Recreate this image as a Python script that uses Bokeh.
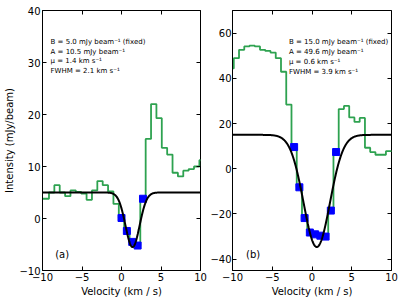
import numpy as np
from bokeh.plotting import figure
from bokeh.layouts import row
from bokeh.models import LinearAxis, Label, FixedTicker, Range1d
from bokeh.embed import file_html
from bokeh.resources import INLINE

# ---------------- data: panel (a) ----------------
vel_a = [-10.20, -9.52, -8.84, -8.16, -7.48, -6.80, -6.12, -5.44, -4.76, -4.08,
         -3.40, -2.72, -2.04, -1.36, -0.68, 0.00, 0.68, 1.36, 2.04, 2.72,
         3.40, 4.08, 4.76, 5.44, 6.12, 6.80, 7.48, 8.16, 8.84, 9.52, 10.20]
flux_a = [3.8, 3.8, 5.0, 6.4, 5.0, 4.3, 5.4, 5.1, 4.8, 3.6,
          5.4, 7.2, 6.4, 5.2, 2.8, 0.1, -2.4, -4.5, -5.2, 3.8,
          15.3, 22.0, 19.3, 13.6, 12.3, 8.8, 8.1, 9.2, 9.5, 10.0, 11.2]
fit_range_a = (-0.3, 3.0)
B_a, A_a, mu_a, fwhm_a = 5.0, 10.5, 1.4, 2.1
yticks_a = [-10, 0, 10, 20, 30, 40]
yrange_a = (-10, 40)

# ---------------- data: panel (b) ----------------
vel_b = [-10.17, -9.51, -8.85, -8.19, -7.53, -6.87, -6.21, -5.55, -4.89, -4.23,
         -3.57, -2.91, -2.25, -1.59, -0.93, -0.27, 0.39, 1.05, 1.71, 2.37,
         3.03, 3.69, 4.35, 5.01, 5.67, 6.33, 6.99, 7.65, 8.31, 8.97, 9.63, 10.29]
flux_b = [44.4, 48.9, 52.6, 54.1, 54.5, 54.1, 52.6, 52.1, 51.4, 48.9,
          42.9, 28.4, 9.6, -8.2, -21.8, -28.2, -29.0, -29.6, -30.0, -18.5,
          7.4, 26.4, 27.8, 22.7, 20.7, 22.5, 9.3, 7.4, 6.2, 6.2, 7.8, 7.8]
fit_range_b = (-2.5, 3.3)
B_b, A_b, mu_b, fwhm_b = 15.0, 49.6, 0.6, 3.9
yticks_b = [-40, -20, 0, 20, 40, 60]
yrange_b = (-45, 70)

xticks = [-10, -5, 0, 5, 10]
xrange_all = (-10, 10)

FONT = "DejaVu Sans"
GREEN = "#2ea250"
MINUS = "\u2212"


def fmt(t):
    return (MINUS + str(abs(t))) if t < 0 else str(t)


def ann_lines(B, A, mu, fwhm):
    return [f"B = {B:.1f} mJy beam\u207b\u00b9 (fixed)",
            f"A = {A:.1f} mJy beam\u207b\u00b9",
            f"\u03bc = {mu:.1f} km s\u207b\u00b9",
            f"FWHM = {fwhm:.1f} km s\u207b\u00b9"]


def make_panel(vel, flux, fit_range, B, A, mu, fwhm, yr, yticks, tag,
               ann_x, ann_y, tag_x, tag_y, left_border, right_border, ylabel,
               fw, ylab_standoff):
    p = figure(frame_width=fw, frame_height=260, output_backend="svg",
               toolbar_location=None, x_range=Range1d(*xrange_all),
               y_range=Range1d(*yr), min_border_left=left_border,
               min_border_right=right_border, min_border_top=10,
               min_border_bottom=0, background_fill_color="white",
               border_fill_color="white")
    p.grid.visible = False
    p.outline_line_color = "black"
    p.outline_line_width = 1

    # extra axes for inward ticks on top and right (no labels)
    top = LinearAxis()
    right = LinearAxis()
    p.add_layout(top, "above")
    p.add_layout(right, "right")

    for ax in p.xaxis:
        ax.ticker = FixedTicker(ticks=xticks)
        ax.major_label_overrides = {t: fmt(t) for t in xticks}
    for ax in p.yaxis:
        ax.ticker = FixedTicker(ticks=yticks)
        ax.major_label_overrides = {t: fmt(t) for t in yticks}
    for ax in list(p.xaxis) + list(p.yaxis):
        ax.major_tick_in = 4
        ax.major_tick_out = 0
        ax.minor_tick_in = 0
        ax.minor_tick_out = 0
        ax.axis_line_color = "black"
        ax.major_tick_line_color = "black"
        ax.major_label_text_font = FONT
        ax.major_label_text_font_size = "10px"
        ax.major_label_text_color = "black"
        ax.major_label_standoff = 2
        ax.axis_label_text_font = FONT
        ax.axis_label_text_font_size = "10px"
        ax.axis_label_text_font_style = "normal"
        ax.axis_label_text_color = "black"
        ax.axis_label_standoff = 2
    for ax in (top, right):
        ax.major_label_text_font_size = "0px"
        ax.major_label_text_color = None
        ax.major_label_standoff = 0
        ax.axis_line_color = None

    p.left[0].major_label_standoff = ylab_standoff
    p.below[0].axis_label = "Velocity (km / s)"
    if ylabel:
        p.left[0].axis_label = ylabel
        p.left[0].axis_label_standoff = 1

    # spectrum
    p.step(vel, flux, mode="center", line_color=GREEN, line_width=1.8)

    # fitted channels
    fv = [v for v, f in zip(vel, flux) if fit_range[0] <= v <= fit_range[1]]
    ff = [f for v, f in zip(vel, flux) if fit_range[0] <= v <= fit_range[1]]
    p.scatter(fv, ff, marker="square", size=7, fill_color="#0000ff",
              line_color="#0000ff")

    # gaussian model from the fitted parameters
    vm = np.linspace(xrange_all[0], xrange_all[1], 500)
    model = B - A * np.exp(-4 * np.log(2) * (vm - mu) ** 2 / fwhm ** 2)
    p.line(vm, model, line_color="black", line_width=2)

    for txt, yy in zip(ann_lines(B, A, mu, fwhm), ann_y):
        p.add_layout(Label(x=ann_x, y=yy, text=txt, text_font=FONT,
                           text_font_size="7px", text_baseline="middle",
                           text_color="black"))
    p.add_layout(Label(x=tag_x, y=tag_y, text=tag, text_font=FONT,
                       text_font_size="10px", text_baseline="middle",
                       text_color="black"))
    return p


pa = make_panel(vel_a, flux_a, fit_range_a, B_a, A_a, mu_a, fwhm_a,
                yrange_a, yticks_a, "(a)", -8.98, [33.9, 32.0, 30.2, 28.3],
                -8.4, -7.0, 42, 7, "Intensity (mJy/beam)", 158, 2)
pb = make_panel(vel_b, flux_b, fit_range_b, B_b, A_b, mu_b, fwhm_b,
                yrange_b, yticks_b, "(b)", -2.9, [55.9, 51.6, 47.3, 43.0],
                -8.3, -37.8, 22, 13, None, 159, 1)

layout = row(pa, pb)
open("out.html", "w").write(file_html(layout, INLINE))
